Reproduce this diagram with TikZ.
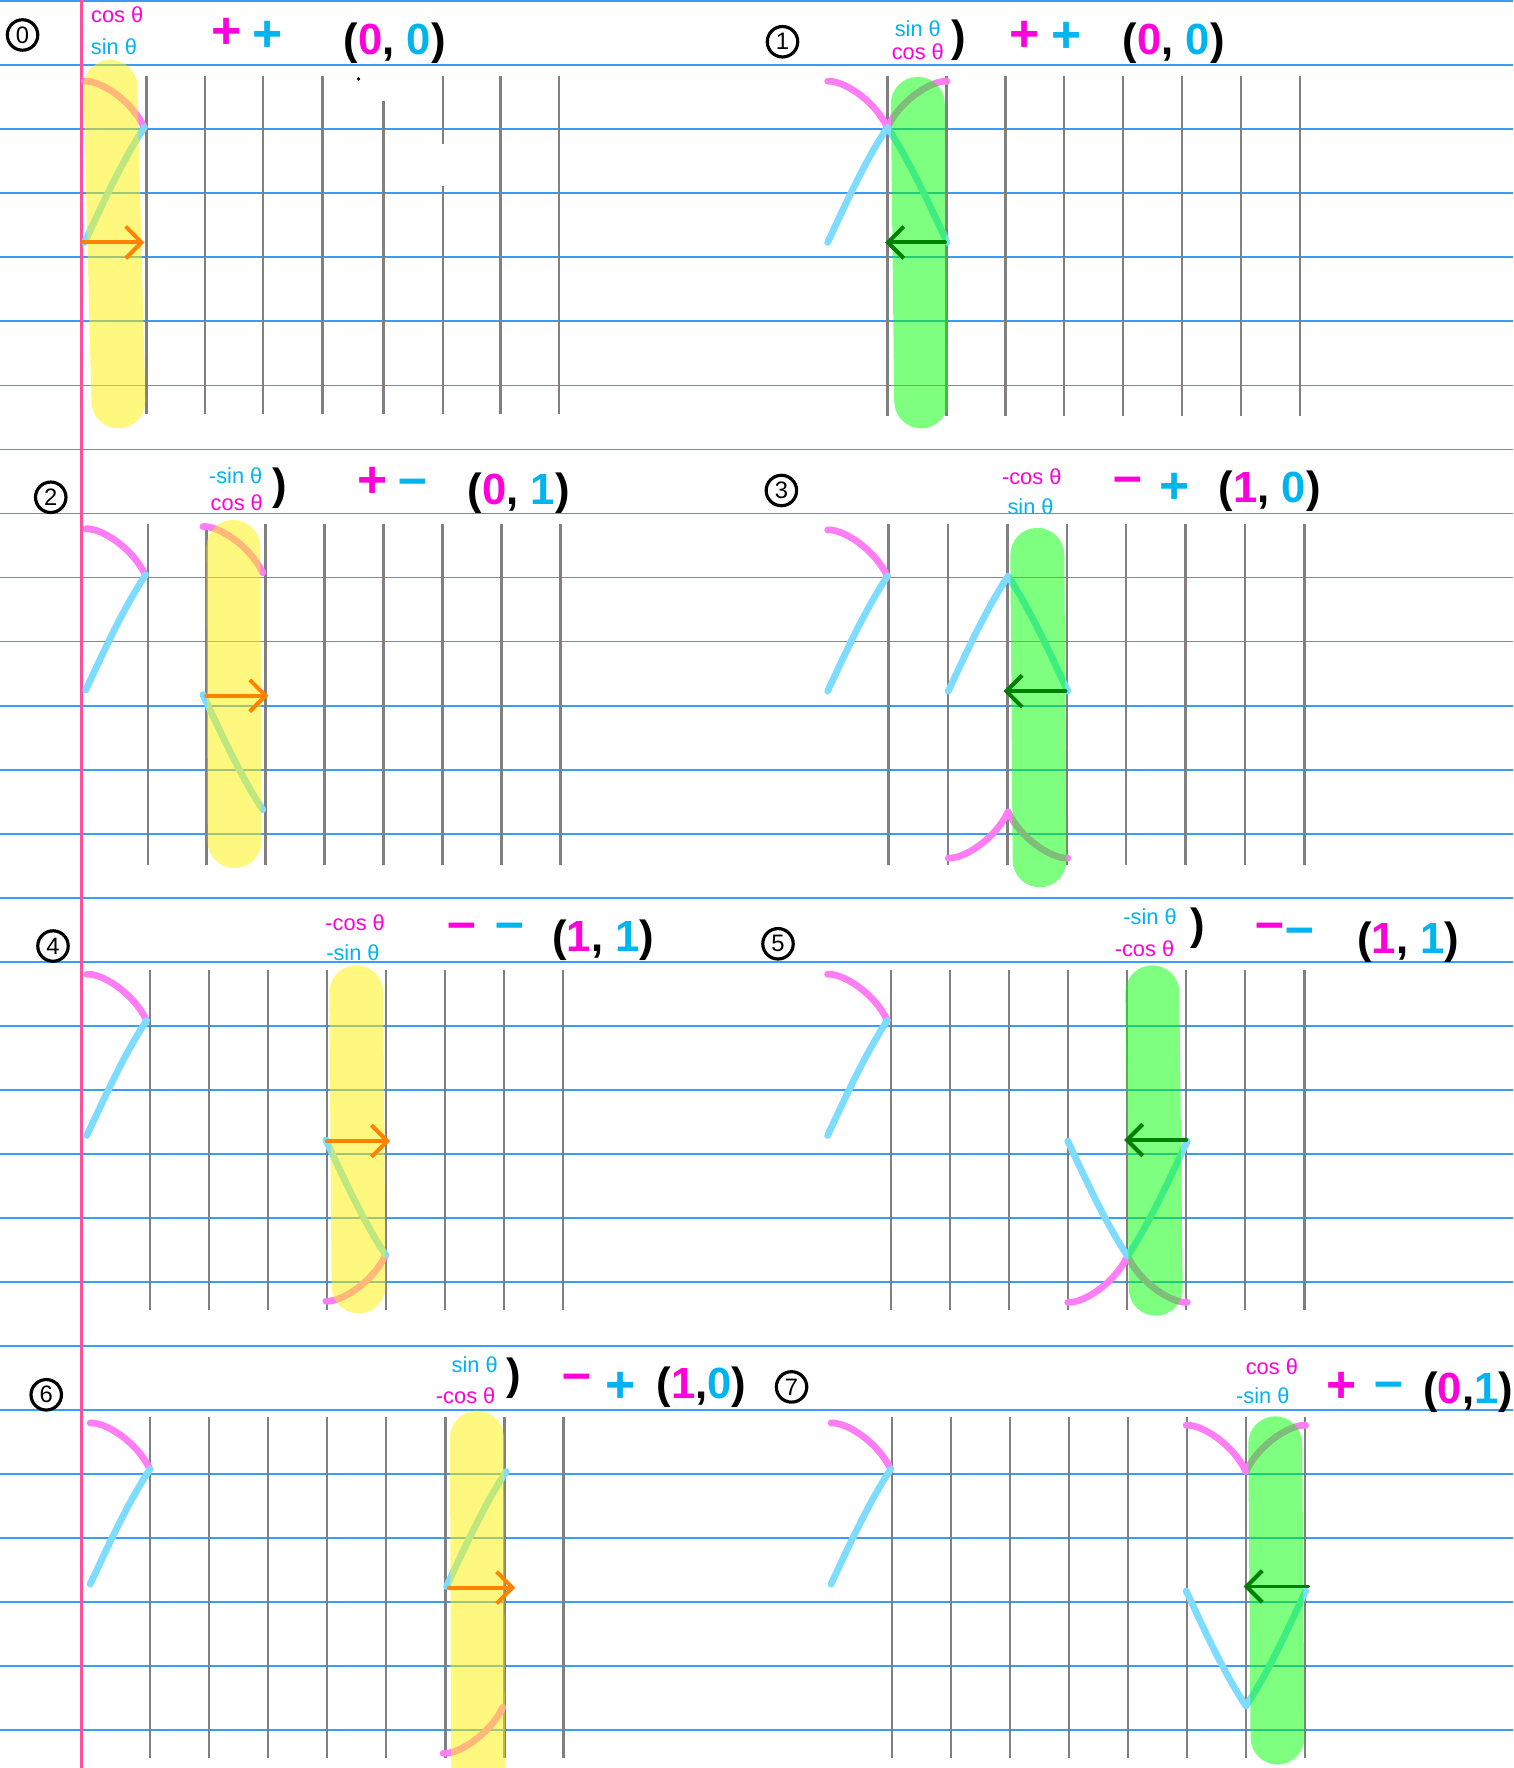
\documentclass[tikz,border=0pt]{standalone}
\usepackage{fontspec}
\setmainfont{Liberation Sans}
\usetikzlibrary{arrows.meta}

\definecolor{ruleblue}{RGB}{60,155,245}
\definecolor{marginred}{RGB}{255,80,160}
\definecolor{rulegray}{RGB}{128,128,128}
\definecolor{pencurve}{RGB}{255,125,245}
\definecolor{skycurve}{RGB}{125,220,255}
\definecolor{pinkink}{RGB}{255,0,220}
\definecolor{cyanink}{RGB}{0,180,240}
\definecolor{arrorange}{RGB}{255,130,0}
\definecolor{arrgreen}{RGB}{0,128,0}

\begin{document}
\begin{tikzpicture}[x=0.01cm,y=-0.01cm,
	paper/.style={ruleblue,line width=0.45pt},
	margin/.style={marginred,line width=0.7pt},
	rule/.style={rulegray,line width=0.6pt},
	pinkpen/.style={pencurve,line width=1.7pt,line cap=round},
	cyanpen/.style={skycurve,line width=1.7pt,line cap=round},
	hiyellow/.style={yellow,opacity=0.5,line width=13.6pt,line cap=round},
	higreen/.style={green,opacity=0.5,line width=13.6pt,line cap=round},
	toright/.style={arrorange,line width=1pt,line cap=round,-{Straight Barb[length=4pt,width=8pt]}},
	toleft/.style={arrgreen,line width=1pt,line cap=round,-{Straight Barb[length=4pt,width=8pt]}},
	num/.style={circle,draw,line width=0.8pt,minimum size=0.27cm,inner sep=0pt,font=\fontsize{6}{6}\selectfont},
	tiny/.style={inner sep=0pt,font=\fontsize{5.5}{6}\selectfont},
	sign/.style={inner sep=0pt,font=\fontsize{13}{13}\selectfont\bfseries},
	pair/.style={inner sep=0pt,font=\fontsize{11}{13}\selectfont\bfseries},
	pics/pinkarc/.style={code={\draw[pinkpen] (-53,-41) .. controls (-40,-42) and (-12,-25) .. (0,0);}},
	pics/cyanline/.style={code={\draw[cyanpen] (0,0) .. controls (-20,30) and (-38,70) .. (-53,102);}}
	]
	
	\clip (0,0) rectangle (1342,1568);
	\fill[white] (0,0) rectangle (1342,1568);
	
	\foreach \k in {0,...,27}
		\draw[paper] (0,1+56.8*\k) -- (1342,1+56.8*\k);
	\draw[margin] (72,0) -- (72,1568);
	
	\foreach \x/\ya/\yb in {130/67/367, 182/67/367, 233/67/367, 286/67/367, 340/90/367, 393/67/128, 393/165/367, 444/67/367, 496/67/367}
		\draw[rule] (\x,\ya) -- (\x,\yb);
	\fill (318,70) circle (1.6);
	
	\foreach \xa/\dx/\ya in {787/52.3/67, 131/52.3/465, 788/52.7/465, 133/52.3/860, 790/52.4/860, 133/52.4/1257, 791/52.3/1257}
	{
		\foreach \k in {0,...,7}
			\draw[rule] (\xa+\k*\dx,\ya) -- ++(0,302);
	}
	
	\foreach \x/\y in {128/113, 787/113, 129/510, 787/511, 130/905, 787/905, 133/1303, 790/1303}
	{
		\pic at (\x,\y) {pinkarc};
		\pic at (\x,\y) {cyanline};
	}
	
	\pic[xscale=-1] at (787,113) {pinkarc};
	\pic[xscale=-1] at (787,113) {cyanline};
	
	\pic at (233,508) {pinkarc};
	\pic[yscale=-1] at (233,718) {cyanline};
	
	\pic at (894,511) {cyanline};
	\pic[xscale=-1] at (894,511) {cyanline};
	\pic[yscale=-1] at (894,720) {pinkarc};
	\pic[scale=-1] at (894,720) {pinkarc};
	
	\pic[yscale=-1] at (342,1113) {pinkarc};
	\pic[yscale=-1] at (342,1113) {cyanline};
	
	\pic[yscale=-1] at (1000,1114) {pinkarc};
	\pic[yscale=-1] at (1000,1114) {cyanline};
	\pic[scale=-1] at (1000,1114) {pinkarc};
	\pic[scale=-1] at (1000,1114) {cyanline};
	
	\pic at (449,1305) {cyanline};
	\pic[yscale=-1] at (446,1514) {pinkarc};
	
	\pic at (1105,1305) {pinkarc};
	\pic[xscale=-1] at (1105,1305) {pinkarc};
	\pic[yscale=-1] at (1105,1513) {cyanline};
	\pic[scale=-1] at (1105,1513) {cyanline};
	
	\draw[hiyellow] (98,77) -- (105,356);
	\draw[higreen] (814,92) -- (817,356);
	\draw[hiyellow] (207,485) -- (208,746);
	\draw[higreen] (920,492) -- (922,763);
	\draw[hiyellow] (316,880) -- (318,1141);
	\draw[higreen] (1022,880) -- (1025,1143);
	\draw[hiyellow] (423,1275) -- (424,1580);
	\draw[higreen] (1131,1280) -- (1133,1541);
	
	\draw[toright] (73,215) -- (128,215);
	\draw[toleft] (838,215) -- (785,215);
	\draw[toright] (183,617) -- (238,617);
	\draw[toleft] (945,613) -- (890,613);
	\draw[toright] (290,1012) -- (346,1012);
	\draw[toleft] (1052,1011) -- (997,1011);
	\draw[toright] (398,1408) -- (457,1408);
	\draw[toleft] (1160,1407) -- (1103,1407);
	
	\node[num] (num0) at (20,31) {0};
	\node[tiny,pinkink] (cos0) at (104,13) {cos θ};
	\node[tiny,cyanink] (sin0) at (101,41) {sin θ};
	\node[sign,pinkink] (sa0) at (201,30) {+};
	\node[sign,cyanink] (sb0) at (237,32) {+};
	\node[pair] (pair0) at (350,38) {(\textcolor{pinkink}{0}, \textcolor{cyanink}{0})};
	
	\node[num] (num1) at (694,37) {1};
	\node[tiny,cyanink] (sin1) at (814,25) {sin θ};
	\node[tiny,pinkink] (cos1) at (814,46) {cos θ};
	\node[pair] (par1) at (850,36) {)};
	\node[sign,pinkink] (sa1) at (909,32) {+};
	\node[sign,cyanink] (sb1) at (946,33) {+};
	\node[pair] (pair1) at (1041,38) {(\textcolor{pinkink}{0}, \textcolor{cyanink}{0})};
	
	\node[num] (num2) at (45,441) {2};
	\node[tiny,cyanink] (sin2) at (209,422) {-sin θ};
	\node[tiny,pinkink] (cos2) at (210,446) {cos θ};
	\node[pair] (par2) at (248,433) {)};
	\node[sign,pinkink] (sa2) at (330,428) {+};
	\node[sign,cyanink] (sb2) at (366,432) {–};
	\node[pair] (pair2) at (460,437) {(\textcolor{pinkink}{0}, \textcolor{cyanink}{1})};
	
	\node[num] (num3) at (693,435) {3};
	\node[tiny,pinkink] (cos3) at (915,423) {-cos θ};
	\node[tiny,cyanink] (sin3) at (914,449) {sin θ};
	\node[sign,pinkink] (sa3) at (1000,430) {–};
	\node[sign,cyanink] (sb3) at (1042,433) {+};
	\node[pair] (pair3) at (1126,436) {(\textcolor{pinkink}{1}, \textcolor{cyanink}{0})};
	
	\node[num] (num4) at (47,839) {4};
	\node[tiny,pinkink] (cos4) at (315,818) {-cos θ};
	\node[tiny,cyanink] (sin4) at (313,845) {-sin θ};
	\node[sign,pinkink] (sa4) at (410,826) {–};
	\node[sign,cyanink] (sb4) at (452,826) {–};
	\node[pair] (pair4) at (535,834) {(\textcolor{pinkink}{1}, \textcolor{cyanink}{1})};
	
	\node[num] (num5) at (690,837) {5};
	\node[tiny,cyanink] (sin5) at (1020,813) {-sin θ};
	\node[tiny,pinkink] (cos5) at (1015,841) {-cos θ};
	\node[pair] (par5) at (1062,823) {)};
	\node[sign,pinkink] (sa5) at (1126,826) {–};
	\node[sign,cyanink] (sb5) at (1153,830) {–};
	\node[pair] (pair5) at (1249,836) {(\textcolor{pinkink}{1}, \textcolor{cyanink}{1})};
	
	\node[num] (num6) at (41,1237) {6};
	\node[tiny,cyanink] (sin6) at (421,1210) {sin θ};
	\node[tiny,pinkink] (cos6) at (413,1238) {-cos θ};
	\node[pair] (par6) at (456,1222) {)};
	\node[sign,pinkink] (sa6) at (512,1226) {–};
	\node[sign,cyanink] (sb6) at (550,1230) {+};
	\node[pair] (pair6) at (622,1230) {(\textcolor{pinkink}{1},\textcolor{cyanink}{0})};
	
	\node[num] (num7) at (702,1230) {7};
	\node[tiny,pinkink] (cos7) at (1128,1212) {cos θ};
	\node[tiny,cyanink] (sin7) at (1120,1238) {-sin θ};
	\node[sign,pinkink] (sa7) at (1190,1230) {+};
	\node[sign,cyanink] (sb7) at (1232,1233) {–};
	\node[pair] (pair7) at (1302,1235) {(\textcolor{pinkink}{0},\textcolor{cyanink}{1})};
	
\end{tikzpicture}
\end{document}
